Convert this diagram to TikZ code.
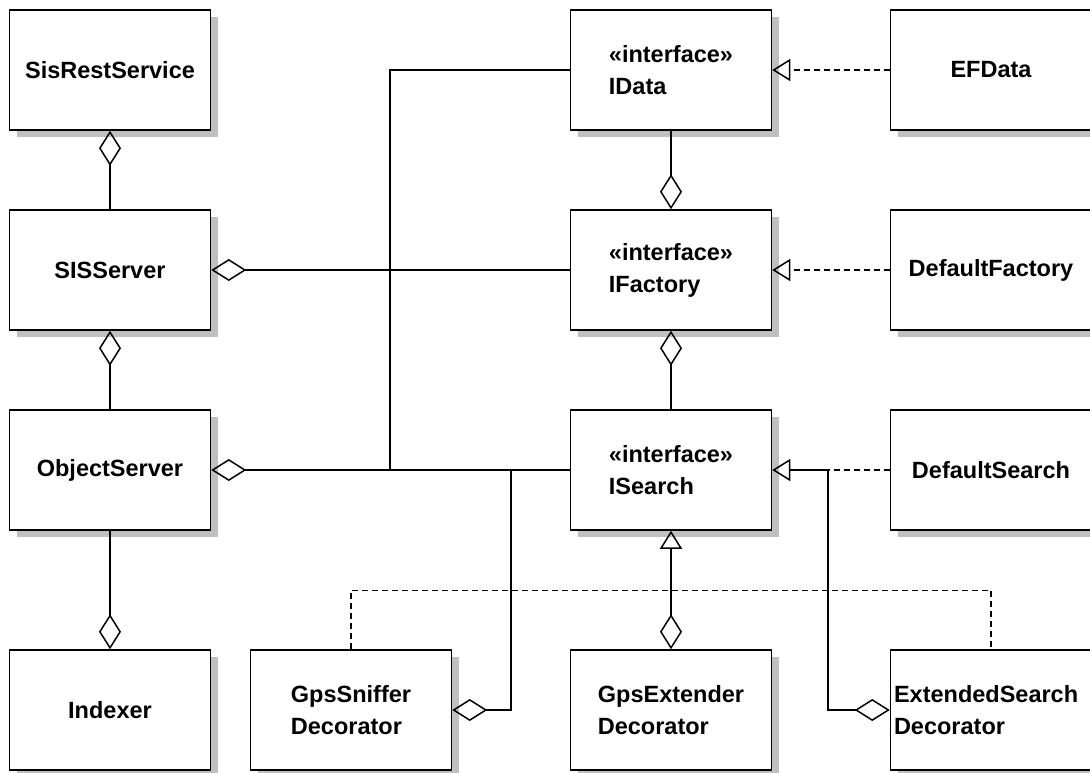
\documentclass[tikz,border=0pt]{standalone}
\usepackage{fontspec}
\setmainfont{Liberation Sans}
\usetikzlibrary{arrows.meta,shadows,positioning}
\definecolor{shadowgray}{HTML}{C0C0C0}

\begin{document}
\begin{tikzpicture}[x=1pt, y=-1pt, line width=1.5pt,
  cls/.style={draw, rectangle, fill=white, minimum width=201pt, minimum height=120pt,
    align=left, font=\fontsize{23.5}{32}\selectfont\bfseries,
    drop shadow={shadow xshift=7pt, shadow yshift=-7pt, fill=shadowgray, opacity=1}},
  agg/.style={{Diamond[open, length=35pt, width=22pt]}-},
  aggreal/.style={{Diamond[open, length=35pt, width=22pt]}-{Triangle[open, length=18pt, width=22pt]}},
  realize/.style={dashed, dash pattern=on 6pt off 4pt, -{Triangle[open, length=18pt, width=22pt]}},
  dashline/.style={dashed, dash pattern=on 6pt off 4pt}
]
  \fill[white] (0,0) rectangle (1090,772);
  \useasboundingbox (0,0) rectangle (1090,772);

  % left column
  \node[cls] (sisrest)   at (110,70)  {SisRestService};
  \node[cls] (sisserver) at (110,270) {SISServer};
  \node[cls] (objserver) at (110,470) {ObjectServer};
  \node[cls] (indexer)   at (110,710) {Indexer};

  % interfaces
  \node[cls] (idata)    at (671,70)  {«interface»\\IData};
  \node[cls] (ifactory) at (671,270) {«interface»\\IFactory};
  \node[cls] (isearch)  at (671,470) {«interface»\\ISearch};

  % implementations
  \node[cls] (efdata)     at (991,70)  {EFData};
  \node[cls] (deffactory) at (991,270) {DefaultFactory};
  \node[cls] (defsearch)  at (991,470) {DefaultSearch};

  % decorators
  \node[cls] (sniffer) at (351,710) {GpsSniffer\\Decorator};
  \node[cls] (gpsext)  at (671,710) {GpsExtender\\Decorator};
  \node[cls, text width=194pt] (extdec) at (991,710) {ExtendedSearch\\Decorator};

  \coordinate (jData)  at (390,470);
  \coordinate (jSniff) at (511,470);
  \coordinate (jExt)   at (828,470);

  \draw[agg] (sisrest.south) -- (sisserver.north);
  \draw[agg] (sisserver.south) -- (objserver.north);
  \draw[agg] (indexer.north) -- (objserver.south);
  \draw[agg] (sisserver.east) -- (ifactory.west);
  \draw[agg] (objserver.east) -- (isearch.west);
  \draw (idata.west) -| (jData);
  \draw[agg] (ifactory.north) -- (idata.south);
  \draw[agg] (ifactory.south) -- (isearch.north);
  \draw[agg] (sniffer.east) -| (jSniff);
  \draw[aggreal] (gpsext.north) -- (isearch.south);
  \draw[aggreal] (extdec.west) -| (jExt) -- (isearch.east);

  \draw[realize] (efdata.west) -- (idata.east);
  \draw[realize] (deffactory.west) -- (ifactory.east);
  \draw[dashline] (defsearch.west) -- (jExt);
  \draw[dashline] (sniffer.north) -- ++(0,-59) -| (extdec.north);
\end{tikzpicture}
\end{document}
